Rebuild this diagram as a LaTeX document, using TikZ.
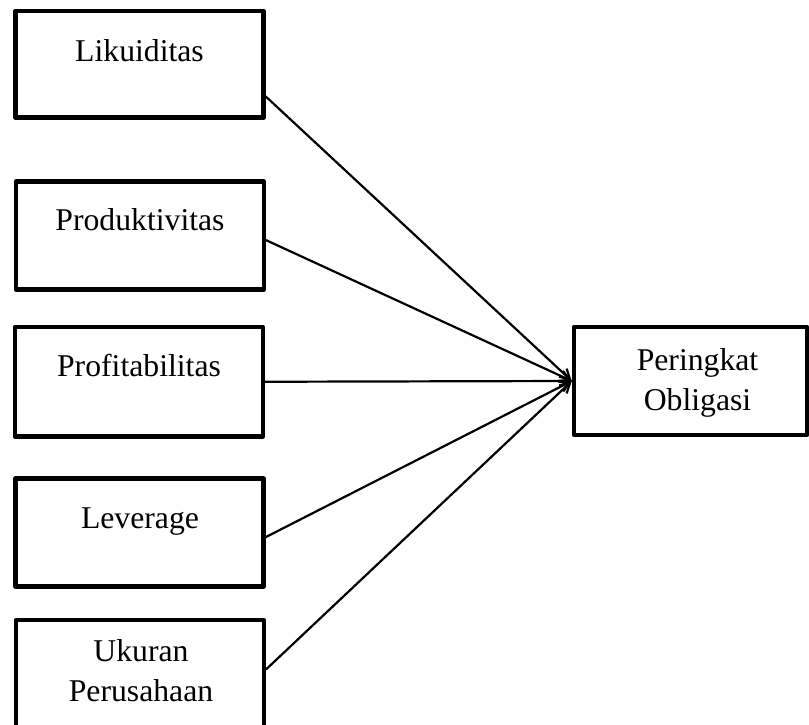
\documentclass[tikz,border=0pt]{standalone}
\usepackage{fontspec}
\setmainfont{Liberation Serif}
\usetikzlibrary{arrows.meta,calc}
\begin{document}
\begin{tikzpicture}[x=1pt,y=-1pt,
  varbox/.style={draw=black,line width=4.4pt,line join=round,fill=white,inner sep=0pt,minimum width=248pt,minimum height=108pt},
  lbl/.style={inner sep=0pt,anchor=base,align=center,font=\fontsize{31.7}{40}\selectfont},
  conn/.style={line width=2.2pt,-{Straight Barb[length=10pt,width=11pt,line width=2.2pt]}}
]
\useasboundingbox (0,0) rectangle (809,725);
% boxes
\node[varbox,minimum height=106.5pt] (b1) at (139.5,64.25) {};
\node[varbox] (b2) at (139.75,235.6) {};
\node[varbox,minimum height=109.5pt] (b3) at (138.75,381.75) {};
\node[varbox] (b4) at (139.5,532.65) {};
\node[varbox] (b5) at (139.75,674) {};
\node[varbox,minimum width=233pt] (t) at (690.5,381) {};
% labels
\node[lbl] (l1) at (139.5,61.7) {Likuiditas};
\node[lbl] (l2) at (140,230.7) {Produktivitas};
\node[lbl] (l3) at (139,376.7) {Profitabilitas};
\node[lbl] (l4) at (140,528.3) {Leverage};
\node[lbl] (l5) at (141,701.7) {Ukuran\\Perusahaan};
\node[lbl] (lt) at (697.5,410) {Peringkat\\Obligasi};
% connectors
\draw[conn] ($(b1.north east)!0.79!(b1.south east)$) -- (t.west);
\draw[conn] ($(b2.north east)!0.54!(b2.south east)$) -- (t.west);
\draw[conn] (b3.east) -- (t.west);
\draw[conn] ($(b4.north east)!0.54!(b4.south east)$) -- (t.west);
\draw[conn] ($(b5.north east)!0.46!(b5.south east)$) -- (t.west);
\end{tikzpicture}
\end{document}
